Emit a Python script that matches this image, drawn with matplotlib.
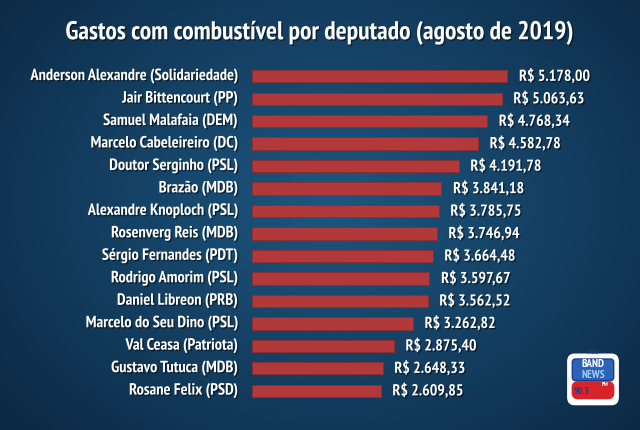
import matplotlib
matplotlib.use("Agg")
import matplotlib.pyplot as plt
import matplotlib.patheffects as pe
from matplotlib.patches import FancyBboxPatch
import numpy as np

names = ["Anderson Alexandre (Solidariedade)", "Jair Bittencourt (PP)", "Samuel Malafaia (DEM)",
         "Marcelo Cabeleireiro (DC)", "Doutor Serginho (PSL)", "Brazão (MDB)",
         "Alexandre Knoploch (PSL)", "Rosenverg Reis (MDB)", "Sérgio Fernandes (PDT)",
         "Rodrigo Amorim (PSL)", "Daniel Libreon (PRB)", "Marcelo do Seu Dino (PSL)",
         "Val Ceasa (Patriota)", "Gustavo Tutuca (MDB)", "Rosane Felix (PSD)"]
values = [5178.00, 5063.63, 4768.34, 4582.78, 4191.78, 3841.18, 3785.75, 3746.94,
          3664.48, 3597.67, 3562.52, 3262.82, 2875.40, 2648.33, 2609.85]
title = "Gastos com combustível por deputado (agosto de 2019)"

def brl(v):
    s = f"{v:,.2f}"
    s = s.replace(",", "X").replace(".", ",").replace("X", ".")
    return "R$ " + s

fam = ["PT Sans Narrow", "Roboto Condensed", "DejaVu Sans"]
shadow = [pe.withSimplePatchShadow(offset=(1, -1), shadow_rgbFace="black", alpha=0.5)]

fig = plt.figure(figsize=(6.4, 4.3), dpi=100)

# background gradient
bg = fig.add_axes([0, 0, 1, 1])
yy, xx = np.mgrid[0:430, 0:640]
r = np.sqrt(((xx - 330) / 420.0) ** 2 + ((yy - 200) / 330.0) ** 2)
r = np.clip(r, 0, 1)
c_in = np.array([0x1d, 0x57, 0x80]) / 255
c_out = np.array([0x0c, 0x2a, 0x47]) / 255
img = c_in[None, None, :] * (1 - r[..., None]) + c_out[None, None, :] * r[..., None]
bg.imshow(img, aspect="auto", extent=[0, 640, 430, 0])
bg.set_xlim(0, 640); bg.set_ylim(430, 0)
bg.axis("off")

ax = fig.add_axes([252 / 640, 1 - 402 / 430, 348 / 640, 337 / 430])
ax.patch.set_alpha(0)
y = np.arange(len(values))
ax.barh(y, values, height=0.55, color="#b13939", edgecolor="#8e2c2c", linewidth=0.6)
ax.set_ylim(len(values) - 0.5, -0.5)
ax.set_xlim(0, 7060)
for yi, v, n in zip(y, values, names):
    ax.text(v + 240, yi, brl(v), va="center", ha="left", color="white", fontsize=11.4,
            fontweight="bold", family=fam, path_effects=shadow)
    ax.text(-280, yi, n, va="center", ha="right", color="white", fontsize=11.7,
            fontweight="bold", family=fam, path_effects=shadow)
ax.axis("off")

fig.text(0.5, 1 - 33 / 430, title, ha="center", va="center", color="white", fontsize=18.5,
         fontweight="bold", family=fam, path_effects=shadow)

# logo
lg = fig.add_axes([565 / 640, 1 - 410 / 430, 56 / 640, 60 / 430])
lg.set_xlim(0, 1); lg.set_ylim(0, 1); lg.axis("off")
lg.add_patch(FancyBboxPatch((0.08, 0.12), 0.84, 0.78, boxstyle="round,pad=0.03,rounding_size=0.12",
                            fc="white", ec="white"))
lg.add_patch(FancyBboxPatch((0.14, 0.5), 0.72, 0.34, boxstyle="round,pad=0.01,rounding_size=0.06",
                            fc="#2a63b7", ec="#1d3f8a"))
lg.add_patch(FancyBboxPatch((0.14, 0.2), 0.72, 0.26, boxstyle="round,pad=0.01,rounding_size=0.1",
                            fc="#d7242a", ec="#d7242a"))
lg.text(0.5, 0.76, "BAND", ha="center", va="center", color="white", fontsize=8,
        fontweight="bold", family=fam, style="italic")
lg.text(0.5, 0.58, "NEWS", ha="center", va="center", color="#9fd0f5", fontsize=8,
        fontweight="bold", family=fam, style="italic")
lg.text(0.3, 0.3, "90.3", ha="center", va="center", color="#1d3f8a", fontsize=7,
        fontweight="bold", family=fam, style="italic")
lg.text(0.72, 0.42, "FM", ha="center", va="center", color="white", fontsize=4.5,
        fontweight="bold", family=fam)
lg.text(0.5, 0.95, "RÁDIO", ha="center", va="center", color="#1d3f8a", fontsize=4,
        fontweight="bold", family=fam)

fig.savefig("out.png", dpi=100)
